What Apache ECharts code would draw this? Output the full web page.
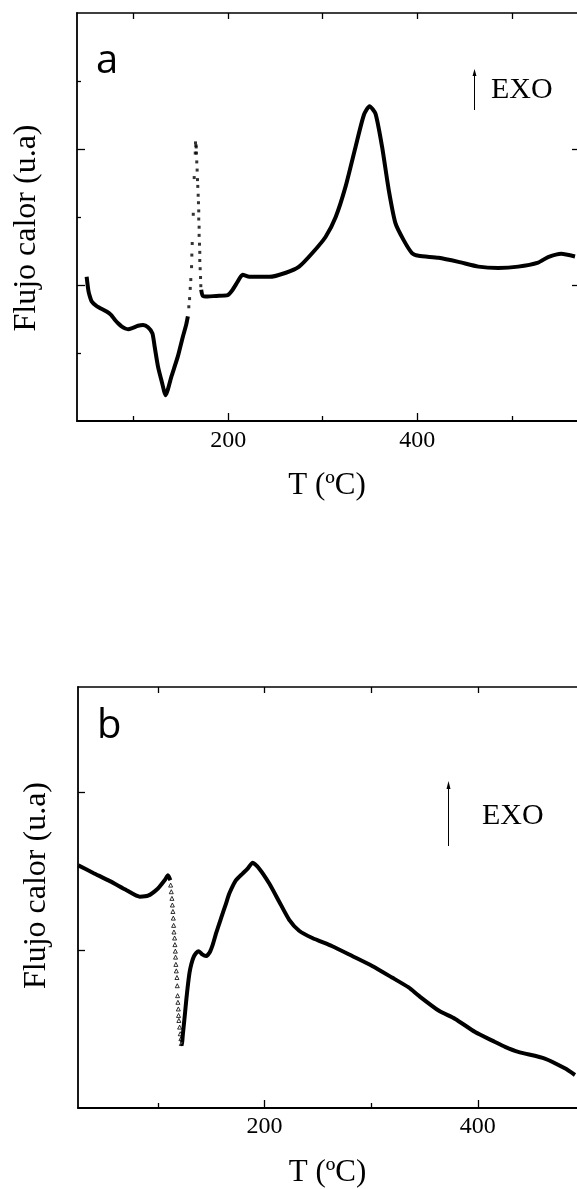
<!DOCTYPE html>
<html>
<head>
<meta charset="utf-8">
<script src="https://cdn.jsdelivr.net/npm/echarts@6.0.0/dist/echarts.min.js"></script>
<style>
  html, body { margin: 0; padding: 0; background: #fff; }
</style>
</head>
<body>
<div id="main" style="width: 577px; height: 1189px"></div>
<script>
// panel a: solid trace before the spike
const aTemp1 = [50.2, 51.9, 53.0, 55.5, 60.8, 71.3, 76.0, 80.0, 84.0, 87.1, 91.0, 94.1, 99.0, 104.6, 109.9, 115.1, 119.8, 122.2, 125.7, 129.3, 133.8, 139.8, 146.7, 152.0, 155.4, 157.3];
const aFlow1 = [2.12, 1.93, 1.86, 1.76, 1.69, 1.61, 1.56, 1.49, 1.43, 1.39, 1.36, 1.35, 1.37, 1.40, 1.41, 1.38, 1.29, 1.09, 0.80, 0.60, 0.38, 0.65, 0.95, 1.24, 1.41, 1.54];
// panel a: sparse points of the sharp peak
const aSpikeTemp = [158.3, 159.1, 159.8, 160.4, 161.2, 161.5, 161.9, 163.0, 164.0, 165.1, 165.4, 165.8, 166.1, 166.4, 166.7, 167.1, 167.5, 167.8, 168.2, 168.5, 168.8, 168.8, 169.2, 169.2, 169.6, 169.9, 169.9, 170.3, 170.7, 171.0];
const aSpikeFlow = [1.68, 1.80, 1.95, 2.08, 2.27, 2.44, 2.61, 3.04, 3.58, 3.94, 4.09, 4.05, 4.03, 3.94, 3.81, 3.69, 3.55, 3.45, 3.32, 3.21, 3.09, 2.97, 2.85, 2.73, 2.60, 2.48, 2.36, 2.24, 2.11, 1.99];
// panel a: solid trace after the spike
const aTemp2 = [171.4, 173.1, 178.4, 187.2, 199.4, 204.7, 210.0, 215.2, 222.3, 243.4, 261.0, 275.0, 289.0, 303.1, 313.7, 324.2, 334.7, 343.5, 349.5, 355.8, 362.8, 369.8, 376.9, 385.6, 394.4, 401.4, 422.5, 443.6, 464.7, 485.7, 506.8, 527.9, 538.4, 552.4, 566.9];
const aFlow2 = [1.93, 1.84, 1.83, 1.84, 1.85, 1.93, 2.05, 2.15, 2.12, 2.12, 2.18, 2.27, 2.47, 2.71, 3.00, 3.45, 4.03, 4.50, 4.63, 4.52, 4.03, 3.40, 2.91, 2.66, 2.47, 2.43, 2.40, 2.34, 2.27, 2.25, 2.27, 2.33, 2.41, 2.46, 2.42];

// panel b
const bTemp1 = [25.3, 39.3, 54.9, 70.5, 82.9, 90.7, 100.0, 106.3, 109.4, 111.6];
const bFlow1 = [1.536, 1.488, 1.436, 1.379, 1.338, 1.344, 1.390, 1.442, 1.473, 1.442];
const bDropTemp = [111.9, 112.5, 113.1, 113.5, 114.0, 114.4, 114.7, 115.0, 115.6, 115.9, 116.3, 116.5, 116.8, 117.2, 117.8, 118.1, 118.4, 118.7, 119.1, 119.3, 119.6, 120.3, 120.9, 121.5, 121.9];
const bDropFlow = [1.411, 1.369, 1.327, 1.285, 1.244, 1.202, 1.156, 1.114, 1.076, 1.034, 0.993, 0.955, 0.909, 0.868, 0.826, 0.774, 0.711, 0.669, 0.627, 0.586, 0.554, 0.512, 0.470, 0.439, 0.408];
const bTemp2 = [121.9, 122.4, 123.4, 125.0, 126.5, 128.0, 129.6, 131.2, 133.4, 135.9, 138.3, 141.5, 145.2, 148.3, 151.4, 154.6, 159.2, 163.9, 167.0, 173.2, 179.4, 184.1, 188.8, 195.0, 204.4, 213.7, 223.1, 232.4, 244.8, 263.5, 282.2, 300.9, 319.5, 335.1, 344.5, 363.2, 378.8, 397.4, 416.1, 425.5, 437.9, 462.8, 481.6, 491.1];
const bFlow2 = [0.408, 0.404, 0.470, 0.575, 0.680, 0.774, 0.857, 0.909, 0.955, 0.982, 0.993, 0.972, 0.962, 0.982, 1.034, 1.108, 1.202, 1.296, 1.359, 1.442, 1.484, 1.515, 1.553, 1.515, 1.421, 1.306, 1.191, 1.122, 1.076, 1.024, 0.962, 0.899, 0.826, 0.763, 0.711, 0.617, 0.564, 0.481, 0.418, 0.387, 0.355, 0.313, 0.251, 0.209];

// ticks
const xMajor = [200, 400];
const xMinor = [100, 300, 500];
const xTop = [100, 200, 300, 400, 500];
const aYMajor = [2, 4];
const aYMinor = [1, 3, 5];
const bYTicks = [1, 2];

function zip(xs, ys) {
  let out = [];
  for (let i = 0; i < xs.length; i++) {
    out.push([xs[i], ys[i]]);
  }
  return out;
}

const serif = "'Liberation Serif', 'Times New Roman', serif";
const black = '#000';

function tickAxis(gridIndex, position, min, max, values, length, showLine, lineWidth) {
  return {
    type: 'value',
    gridIndex: gridIndex,
    position: position,
    min: min,
    max: max,
    axisLine: {show: showLine, onZero: false, lineStyle: {color: black, width: lineWidth || 1.8}},
    axisTick: {show: true, inside: true, length: length, customValues: values, lineStyle: {color: black, width: 1.3}},
    axisLabel: {show: false},
    splitLine: {show: false}
  };
}

let myChart = echarts.init(document.getElementById('main'));

let option = {
  animation: false,
  backgroundColor: '#fff',
  grid: [
    {left: 77, top: 13, right: -2, height: 408},
    {left: 78, top: 687, right: -2, height: 425}
  ],
  xAxis: [
    {
      type: 'value',
      gridIndex: 0,
      position: 'bottom',
      min: 40,
      max: 569,
      name: 'T (ºC)',
      nameLocation: 'middle',
      nameGap: 49,
      nameTextStyle: {fontFamily: serif, fontSize: 31, color: black},
      axisLine: {onZero: false, lineStyle: {color: black, width: 1.8}},
      axisTick: {inside: true, length: 8, customValues: xMajor, lineStyle: {color: black, width: 1.3}},
      axisLabel: {customValues: xMajor, fontFamily: serif, fontSize: 24, color: black, margin: 8},
      splitLine: {show: false}
    },
    tickAxis(0, 'bottom', 40, 569, xMinor, 5, false),
    tickAxis(0, 'top', 40, 569, xTop, 6, true, 1.5),
    {
      type: 'value',
      gridIndex: 1,
      position: 'bottom',
      min: 25,
      max: 493,
      name: 'T (ºC)',
      nameLocation: 'middle',
      nameGap: 49,
      nameTextStyle: {fontFamily: serif, fontSize: 31, color: black},
      axisLine: {onZero: false, lineStyle: {color: black, width: 1.8}},
      axisTick: {inside: true, length: 8, customValues: xMajor, lineStyle: {color: black, width: 1.3}},
      axisLabel: {customValues: xMajor, fontFamily: serif, fontSize: 24, color: black, margin: 7},
      splitLine: {show: false}
    },
    tickAxis(1, 'bottom', 25, 493, xMinor, 5, false),
    tickAxis(1, 'top', 25, 493, xTop, 6, true, 1.5)
  ],
  yAxis: [
    {
      type: 'value',
      gridIndex: 0,
      position: 'left',
      min: 0,
      max: 6,
      name: 'Flujo calor (u.a)',
      nameLocation: 'middle',
      nameGap: 34,
      nameTextStyle: {fontFamily: serif, fontSize: 32, color: black, padding: [0, 22, 0, 0]},
      axisLine: {onZero: false, lineStyle: {color: black, width: 1.8}},
      axisTick: {inside: true, length: 8, customValues: aYMajor, lineStyle: {color: black, width: 1.3}},
      axisLabel: {show: false},
      splitLine: {show: false}
    },
    tickAxis(0, 'left', 0, 6, aYMinor, 4, false),
    tickAxis(0, 'right', 0, 6, aYMajor, 5, false),
    {
      type: 'value',
      gridIndex: 1,
      position: 'left',
      min: 0,
      max: 2.665,
      name: 'Flujo calor (u.a)',
      nameLocation: 'middle',
      nameGap: 25,
      nameTextStyle: {fontFamily: serif, fontSize: 32, color: black, padding: [0, 0, 0, 24]},
      axisLine: {onZero: false, lineStyle: {color: black, width: 1.8}},
      axisTick: {inside: true, length: 7, customValues: bYTicks, lineStyle: {color: black, width: 1.3}},
      axisLabel: {show: false},
      splitLine: {show: false}
    }
  ],
  graphic: [
    {type: 'text', left: 96, top: 42, style: {text: 'a', fontFamily: "'Open Sans', sans-serif", fontSize: 40, fill: black}},
    {type: 'text', left: 97, top: 707, style: {text: 'b', fontFamily: "'Open Sans', sans-serif", fontSize: 40, fill: black}},
    {type: 'text', left: 491, top: 75, style: {text: 'EXO', fontFamily: serif, fontSize: 30, fill: black}},
    {type: 'text', left: 482, top: 801, style: {text: 'EXO', fontFamily: serif, fontSize: 30, fill: black}},
    {type: 'line', shape: {x1: 474.5, y1: 110, x2: 474.5, y2: 74}, style: {stroke: black, lineWidth: 1}},
    {type: 'polygon', shape: {points: [[474.5, 69], [472.5, 76], [476.5, 76]]}, style: {fill: black}},
    {type: 'line', shape: {x1: 448.5, y1: 846, x2: 448.5, y2: 787}, style: {stroke: black, lineWidth: 1}},
    {type: 'polygon', shape: {points: [[448.5, 781], [446.5, 789], [450.5, 789]]}, style: {fill: black}}
  ],
  series: [
    {
      type: 'line', xAxisIndex: 0, yAxisIndex: 0,
      data: zip(aTemp1, aFlow1),
      showSymbol: false, smooth: 0.2,
      lineStyle: {color: black, width: 4}
    },
    {
      type: 'scatter', xAxisIndex: 0, yAxisIndex: 0,
      data: zip(aSpikeTemp, aSpikeFlow),
      symbol: 'rect', symbolSize: 3,
      itemStyle: {color: black}
    },
    {
      type: 'line', xAxisIndex: 0, yAxisIndex: 0,
      data: zip(aTemp2, aFlow2),
      showSymbol: false, smooth: 0.2,
      lineStyle: {color: black, width: 4}
    },
    {
      type: 'line', xAxisIndex: 3, yAxisIndex: 3,
      data: zip(bTemp1, bFlow1),
      showSymbol: false, smooth: 0.2,
      lineStyle: {color: black, width: 4}
    },
    {
      type: 'scatter', xAxisIndex: 3, yAxisIndex: 3,
      data: zip(bDropTemp, bDropFlow),
      symbol: 'triangle', symbolSize: 4,
      itemStyle: {color: '#fff', borderColor: black, borderWidth: 1}
    },
    {
      type: 'line', xAxisIndex: 3, yAxisIndex: 3,
      data: zip(bTemp2, bFlow2),
      showSymbol: false, smooth: 0.2,
      lineStyle: {color: black, width: 4}
    }
  ]
};
myChart.setOption(option);
</script>
</body>
</html>
